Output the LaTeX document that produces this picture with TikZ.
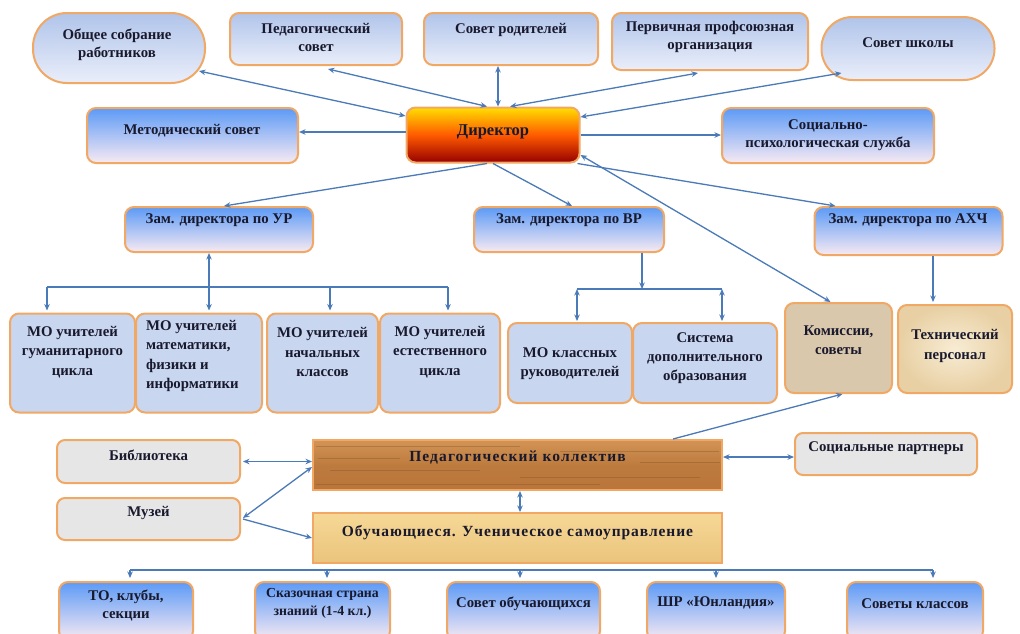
\documentclass[tikz,border=0pt]{standalone}
\usepackage{fontspec}
\setmainfont{Liberation Serif}
\usetikzlibrary{arrows.meta,calc}
\definecolor{bord}{RGB}{240,168,100}
\definecolor{arr}{RGB}{74,122,184}
\definecolor{txtc}{RGB}{25,25,45}
\definecolor{topA}{RGB}{176,196,234}
\definecolor{topB}{RGB}{234,238,250}
\definecolor{bluA}{RGB}{92,154,246}
\definecolor{bluB}{RGB}{248,234,242}
\definecolor{moC}{RGB}{200,214,240}
\definecolor{komC}{RGB}{218,200,172}
\definecolor{texA}{RGB}{248,236,212}
\definecolor{texB}{RGB}{232,208,164}
\definecolor{grayC}{RGB}{230,230,230}
\definecolor{woodA}{RGB}{210,148,86}
\definecolor{woodB}{RGB}{186,118,58}
\definecolor{parA}{RGB}{246,216,150}
\definecolor{parB}{RGB}{234,196,124}
\definecolor{dirA}{RGB}{255,222,0}
\definecolor{dirM}{RGB}{255,90,0}
\definecolor{dirB}{RGB}{150,0,0}
\tikzset{
  base/.style={draw=bord, line width=2pt, rounded corners=9pt, inner sep=0pt},
  topbox/.style={base, top color=topA, bottom color=topB},
  pill/.style={topbox, rounded corners=#1},
  bluebox/.style={base, top color=bluA, bottom color=bluB},
  mobox/.style={base, fill=moC},
  kombox/.style={base, fill=komC},
  texbox/.style={base, inner color=texA, outer color=texB},
  graybox/.style={base, fill=grayC, rounded corners=8pt},
  woodbox/.style={base, rounded corners=0pt, top color=woodA, bottom color=woodB, middle color=woodB!85!woodA},
  parbox/.style={base, rounded corners=0pt, top color=parA, bottom color=parB},
  dirbox/.style={base, top color=dirA, bottom color=dirB, middle color=dirM},
  lbl/.style={font=\bfseries\fontsize{14.8}{18}\selectfont, text=txtc, align=center, inner sep=0pt},
  molbl/.style={lbl, font=\bfseries\fontsize{14.8}{19.2}\selectfont},
  big/.style={lbl, font=\bfseries\fontsize{16.5}{19}\selectfont},
  wide/.style={lbl, font=\bfseries\fontsize{15.5}{19}\selectfont},
  con/.style={draw=arr, line width=1.3pt},
  tip/.style={-{Stealth[length=6.5pt,width=5.5pt]}},
  both/.style={{Stealth[length=6.5pt,width=5.5pt]}-{Stealth[length=6.5pt,width=5.5pt]}},
}
\begin{document}
\begin{tikzpicture}[x=1pt,y=-1pt]
\fill[white] (0,0) rectangle (1020,633);
\useasboundingbox (0,0) rectangle (1020,633);

% top row
\node[pill=34pt, minimum width=172pt, minimum height=70pt] (obs) at (119,48) {};
\node[topbox, minimum width=172pt, minimum height=52pt] (ped) at (316,39) {};
\node[topbox, minimum width=174pt, minimum height=52pt] (rod) at (511,39) {};
\node[topbox, minimum width=196pt, minimum height=57pt] (prof) at (710,41.5) {};
\node[pill=31pt, minimum width=173pt, minimum height=63pt] (shk) at (908,48.5) {};
\node[lbl] (obs-t) at (117,45) {Общее собрание\\работников};
\node[lbl] (ped-t) at (316,37) {Педагогический\\совет};
\node[lbl] (rod-t) at (511,30) {Совет родителей};
\node[lbl] (prof-t) at (710,37) {Первичная профсоюзная\\организация};
\node[lbl] (shk-t) at (908,43) {Совет школы};

% second row
\node[bluebox, minimum width=211pt, minimum height=55pt] (met) at (192.5,135.5) {};
\node[dirbox, minimum width=173pt, minimum height=55pt] (dir) at (493,135) {};
\node[bluebox, minimum width=212pt, minimum height=55pt] (soc) at (828,135.5) {};
\node[lbl] (met-t) at (192,131) {Методический совет};
\node[big] (dir-t) at (493,132) {Директор};
\node[lbl] (soc-t) at (828,135) {Социально-\\психологическая служба};

% deputies
\node[bluebox, minimum width=188pt, minimum height=45pt] (zur) at (219,229.5) {};
\node[bluebox, minimum width=190pt, minimum height=45pt] (zvr) at (569,229.5) {};
\node[bluebox, minimum width=188pt, minimum height=48pt] (zax) at (908.5,231) {};
\node[lbl] (zur-t) at (219,220) {Зам. директора по УР};
\node[lbl] (zvr-t) at (569,220) {Зам. директора по ВР};
\node[lbl] (zax-t) at (908,220) {Зам. директора по АХЧ};

% MO row
\node[mobox, minimum width=125pt, minimum height=99pt] (mo1) at (72.5,363) {};
\node[mobox, minimum width=126pt, minimum height=99pt] (mo2) at (199,363) {};
\node[mobox, minimum width=111pt, minimum height=99pt] (mo3) at (322.5,363) {};
\node[mobox, minimum width=120pt, minimum height=99pt] (mo4) at (440,363) {};
\node[mobox, minimum width=124pt, minimum height=80pt] (mkr) at (570,363) {};
\node[mobox, minimum width=144pt, minimum height=80pt] (sdo) at (705,363) {};
\node[kombox, minimum width=107pt, minimum height=90pt] (kom) at (838.5,348) {};
\node[texbox, minimum width=114pt, minimum height=88pt] (tex) at (955,349) {};
\node[molbl] (mo1-t) at (72.5,352) {МО учителей\\гуманитарного\\цикла};
\node[molbl, align=left, anchor=west] (mo2-t) at (146,356) {МО учителей\\математики,\\физики и\\информатики};
\node[molbl] (mo3-t) at (322.5,352) {МО учителей\\начальных\\классов};
\node[molbl] (mo4-t) at (440,352) {МО учителей\\естественного\\цикла};
\node[molbl] (mkr-t) at (570,364) {МО классных\\руководителей};
\node[molbl] (sdo-t) at (705,358) {Система\\дополнительного\\образования};
\node[molbl] (kom-t) at (838.5,340) {Комиссии,\\советы};
\node[molbl] (tex-t) at (955,346) {Технический\\персонал};

% lower block
\node[graybox, minimum width=183pt, minimum height=43pt] (lib) at (148.5,461.5) {};
\node[graybox, minimum width=183pt, minimum height=42pt] (mus) at (148.5,519) {};
\node[woodbox, minimum width=409pt, minimum height=50pt] (pk) at (517.5,465) {};
\node[parbox, minimum width=409pt, minimum height=50pt] (obu) at (517.5,538) {};
\node[graybox, minimum width=182pt, minimum height=42pt] (sp) at (886,454) {};
\foreach \yy/\xa/\xb in {446/316/520,451/560/719,470/330/480,477/520/700,484/316/600,458/318/400,462/640/720}
  \draw[woodB!60!black, opacity=0.3, line width=0.8pt] (\xa,\yy) -- (\xb,\yy);
\node[lbl] (lib-t) at (148.5,455) {Библиотека};
\node[lbl] (mus-t) at (148.5,513) {Музей};
\node[lbl] (sp-t) at (886,448) {Социальные партнеры};
\node[wide] (pk-t) at (517.5,458) {\addfontfeature{LetterSpace=7}Педагогический коллектив};
\node[wide] (obu-t) at (517.5,533) {\addfontfeature{LetterSpace=6}Обучающиеся. Ученическое самоуправление};

% bottom row
\node[bluebox, minimum width=134pt, minimum height=58pt] (to) at (126,611) {};
\node[bluebox, minimum width=135pt, minimum height=58pt] (sk) at (322.5,611) {};
\node[bluebox, minimum width=153pt, minimum height=58pt] (so) at (523.5,611) {};
\node[bluebox, minimum width=138pt, minimum height=58pt] (shr) at (716,611) {};
\node[bluebox, minimum width=136pt, minimum height=58pt] (skl) at (915,611) {};
\node[lbl] (to-t) at (126,605) {ТО, клубы,\\секции};
\node[lbl, font=\bfseries\fontsize{13.8}{18}\selectfont] (sk-t) at (322.5,603) {Сказочная страна\\знаний (1-4 кл.)};
\node[lbl] (so-t) at (523.5,604) {Совет обучающихся};
\node[lbl] (shr-t) at (716,603) {ШР «Юнландия»};
\node[lbl] (skl-t) at (915,604) {Советы классов};

% connectors: director
\draw[con,both] ($(obs.south east)+(-7,-13)$) -- ($(dir.west)+(0,-19)$);
\draw[con,both] ($(ped.south)+(12,3)$) -- ($(dir.north)+(-6,0)$);
\draw[con,both] ($(rod.south)+(-13,0)$) -- ($(dir.north)+(5,0)$);
\draw[con,both] ($(prof.south)+(-12,2)$) -- ($(dir.north)+(17,0)$);
\draw[con,both] ($(shk.south west)+(21,-8)$) -- ($(dir.east)+(0,-18)$);
\draw[con,tip] ($(dir.west)+(0,-3)$) -- ($(met.east)+(0,-3.5)$);
\draw[con,tip] (dir.east) -- (dir.east -| soc.west);
\draw[con,tip] ($(dir.south)+(-6,0)$) -- ($(zur.north)+(5,0)$);
\draw[con,tip] (dir.south) -- ($(zvr.north)+(3,0)$);
\draw[con,tip] ($(dir.south east)+(-3,0)$) -- ($(zax.north west)+(22,0)$);
\draw[con,both] ($(kom.north)+(-8,0)$) -- ($(dir.east)+(0,20)$);
\draw[con,tip] ($(pk.north east)+(-50,0)$) -- ($(kom.south)+(4,0)$);

% UR bus
\coordinate (urL) at (47,287);
\coordinate (urM) at (209,287);
\coordinate (urN) at (330,287);
\coordinate (urR) at (448,287);
\draw[con] (urL) -- (urR);
\draw[con,both] (urM |- zur.south) -- ($(urM |- mo2.north)+(0,-2)$);
\draw[con,tip] (urL) -- ($(urL |- mo1.north)+(0,-2)$);
\draw[con,tip] (urN) -- ($(urN |- mo3.north)+(0,-2)$);
\draw[con,tip] (urR) -- ($(urR |- mo4.north)+(0,-2)$);

% VR bus
\coordinate (vrL) at (577,289);
\coordinate (vrM) at (642,289);
\coordinate (vrR) at (722,289);
\draw[con,tip] (vrM |- zvr.south) -- (vrM);
\draw[con,line width=2.6pt] (vrL) -- (vrR);
\draw[con,both] (vrL) -- ($(vrL |- mkr.north)+(0,-1)$);
\draw[con,both] (vrR) -- ($(vrR |- sdo.north)+(0,-1)$);

% AXCh
\draw[con,tip] ($(zax.south)+(24.5,0)$) -- ($(tex.north)+(-22,-2)$);

% lower block connectors
\draw[con,both] ($(lib.east)+(2,0)$) -- (lib.east -| pk.west);
\draw[con,both] ($(mus.east)+(2,-1)$) -- ($(pk.west)+(0,2)$);
\draw[con,tip] ($(mus.east)+(2,0)$) -- (obu.west);
\draw[con,both] ($(pk.south)+(2.5,0)$) -- ($(obu.north)+(2.5,0)$);
\draw[con,both] ($(pk.east)+(0,-8)$) -- ($(sp.west)+(0,3)$);

% bottom bus
\coordinate (bL) at (130,570);
\coordinate (b2) at (327,570);
\coordinate (b3) at (520,570);
\coordinate (b4) at (716,570);
\coordinate (bR) at (933,570);
\draw[con,line width=1.1pt] (bL) -- (bR);
\draw[con,tip] (bL) -- ($(bL |- to.north)+(0,-3)$);
\draw[con,tip] (b2) -- ($(b2 |- sk.north)+(0,-3)$);
\draw[con,tip] (b3) -- ($(b3 |- so.north)+(0,-3)$);
\draw[con,tip] (b4) -- ($(b4 |- shr.north)+(0,-3)$);
\draw[con,tip] (bR) -- ($(bR |- skl.north)+(0,-3)$);
\end{tikzpicture}
\end{document}
